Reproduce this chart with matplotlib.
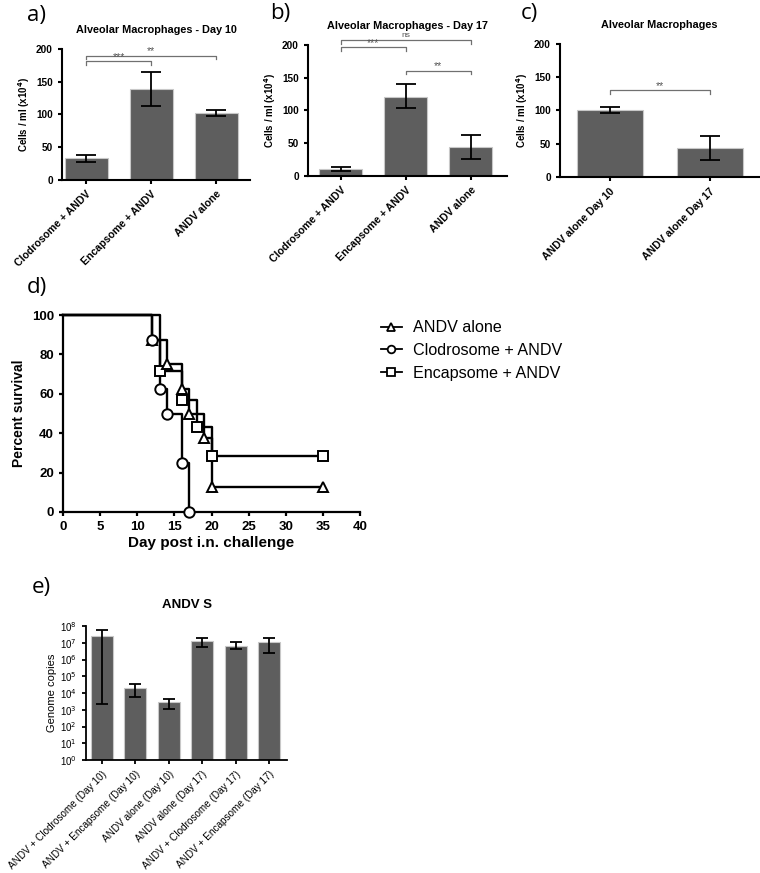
import matplotlib
matplotlib.use("Agg")
import matplotlib.pyplot as plt
import numpy as np
from matplotlib.lines import Line2D

W, H = 760, 873
plt.rcParams['font.family'] = ['Liberation Sans', 'DejaVu Sans']

# ---------------- data ----------------
cats_a = ["Clodrosome + ANDV", "Encapsome + ANDV", "ANDV alone"]
vals_a = [33, 139, 102]
lo_a = [28, 113, 97]
hi_a = [38, 165, 107]

cats_b = ["Clodrosome + ANDV", "Encapsome + ANDV", "ANDV alone"]
vals_b = [10, 121, 44]
lo_b = [8, 104, 26]
hi_b = [13, 140, 62]

cats_c = ["ANDV alone Day 10", "ANDV alone Day 17"]
vals_c = [101, 44]
lo_c = [96, 26]
hi_c = [106, 61]

surv_andv_t = [0, 12, 14, 16, 17, 19, 20, 35]
surv_andv_p = [100, 87.5, 75, 62.5, 50, 37.5, 12.5, 12.5]
surv_clod_t = [0, 12, 13, 14, 16, 17]
surv_clod_p = [100, 87.5, 62.5, 50, 25, 0]
surv_enc_t = [0, 13, 16, 18, 20, 35]
surv_enc_p = [100, 71.4, 57.1, 42.9, 28.6, 28.6]

cats_e = ["ANDV + Clodrosome (Day 10)", "ANDV + Encapsome (Day 10)", "ANDV alone (Day 10)",
          "ANDV alone (Day 17)", "ANDV + Clodrosome (Day 17)", "ANDV + Encapsome (Day 17)"]
vals_e = [2.6e7, 2.0e4, 2.8e3, 1.26e7, 6.7e6, 1.15e7]
lo_e = [2.2e3, 6.0e3, 1.15e3, 5.9e6, 4.1e6, 2.3e6]
hi_e = [5.5e7, 3.6e4, 4.6e3, 2.0e7, 1.05e7, 2.0e7]

BAR = '#5e5e5e'
EDGE = '#c8c8c8'

fig = plt.figure(figsize=(W / 100, H / 100), dpi=100)


def ax_px(l, t, r, b):
    return fig.add_axes([l / W, 1 - b / H, (r - l) / W, (b - t) / H])


def style(ax, lw=1.5):
    for s in ['top', 'right']:
        ax.spines[s].set_visible(False)
    for s in ['left', 'bottom']:
        ax.spines[s].set_linewidth(lw)
    ax.tick_params(width=lw, length=3, direction='out')


def bracket(ax, x1, x2, y, text, drop=6):
    ax.plot([x1, x1, x2, x2], [y - drop, y, y, y - drop], color='#707070', lw=0.9, clip_on=False)
    ax.text((x1 + x2) / 2, y - 1.5, text, ha='center', va='bottom', fontsize=7.5, color='#555555', clip_on=False)


def bar_panel(ax, cats, vals, lo, hi, xlim, title, title_y):
    x = np.arange(len(cats))
    v = np.array(vals)
    yerr = [v - np.array(lo), np.array(hi) - v]
    ax.bar(x, v, width=0.66, color=BAR, edgecolor=EDGE, linewidth=0.8, zorder=2)
    ax.errorbar(x, v, yerr=yerr, fmt='none', ecolor='black', elinewidth=1.3, capsize=7.5, capthick=1.3, zorder=3)
    ax.set_xlim(*xlim)
    ax.set_ylim(0, 200)
    ax.set_yticks([0, 50, 100, 150, 200])
    ax.set_xticks(x)
    ax.set_xticklabels(cats, rotation=45, ha='right', rotation_mode='anchor', fontsize=7.6, fontweight='bold')
    for lbl in ax.get_yticklabels():
        lbl.set_fontsize(7.2)
        lbl.set_fontweight('bold')
    ax.set_ylabel('Cells / ml (x10$^{\\mathbf{4}}$)', fontsize=7, fontweight='bold', labelpad=3)
    style(ax)
    bb = ax.get_position()
    fig.text((bb.x0 + bb.x1) / 2, 1 - title_y / H, title, ha='center', va='center', fontsize=7.8, fontweight='bold')


# ---- a ----
axa = ax_px(62, 49, 250, 180)
bar_panel(axa, cats_a, vals_a, lo_a, hi_a, (-0.37, 2.52), 'Alveolar Macrophages - Day 10', 30)
bracket(axa, 0, 1, 181, '***')
bracket(axa, 0, 2, 190, '**')

# ---- b ----
axb = ax_px(308, 45, 507, 176)
bar_panel(axb, cats_b, vals_b, lo_b, hi_b, (-0.5, 2.56), 'Alveolar Macrophages - Day 17', 26)
bracket(axb, 0, 1, 197, '***')
axb.plot([0, 0, 2, 2], [202, 208, 208, 202], color='#707070', lw=0.9, clip_on=False)
axb.text(1, 208.5, 'ns', ha='center', va='bottom', fontsize=6, color='#555555', clip_on=False)
bracket(axb, 1, 2, 161, '**')

# ---- c ----
axc = ax_px(560, 44, 759, 177)
bar_panel(axc, cats_c, vals_c, lo_c, hi_c, (-0.5, 1.49), 'Alveolar Macrophages', 25)
bracket(axc, 0, 1, 131, '**')

# ---- d ----
axd = ax_px(63, 315, 360, 512)
mk = dict(markerfacecolor='white', markeredgecolor='black', markeredgewidth=1.4, markersize=7.5)
series = [
    (surv_enc_t, surv_enc_p, 's', 'Encapsome + ANDV'),
    (surv_andv_t, surv_andv_p, '^', 'ANDV alone'),
    (surv_clod_t, surv_clod_p, 'o', 'Clodrosome + ANDV'),
]
for t, p, m, name in series:
    axd.step(t, p, where='post', color='black', lw=1.7, clip_on=False, zorder=3)
    axd.plot(t[1:], p[1:], linestyle='none', marker=m, zorder=4, clip_on=False, **mk)
axd.set_xlim(0, 40)
axd.set_ylim(0, 100)
axd.set_xticks(range(0, 41, 5))
axd.set_yticks(range(0, 101, 20))
style(axd, lw=1.6)
for lbl in axd.get_xticklabels() + axd.get_yticklabels():
    lbl.set_fontsize(9.5)
    lbl.set_fontweight('bold')
axd.set_xlabel('Day post i.n. challenge', fontsize=11, fontweight='bold', labelpad=2)
axd.set_ylabel('Percent survival', fontsize=10, fontweight='bold', labelpad=4)

mk_leg = dict(markerfacecolor='white', markeredgecolor='black', markeredgewidth=1.3, markersize=5.5)
handles = [Line2D([0], [0], color='black', lw=1.3, marker=m, **mk_leg) for m in ['^', 'o', 's']]
fig.legend(handles, ['ANDV alone', 'Clodrosome + ANDV', 'Encapsome + ANDV'],
           loc='upper left', bbox_to_anchor=(366 / W, 1 - 306 / H), frameon=False,
           fontsize=11.6, handlelength=1.35, handletextpad=0.65, labelspacing=0.47)

# ---- e ----
axe = ax_px(86, 626, 287, 760)
xe = np.arange(len(cats_e))
ve = np.array(vals_e)
axe.bar(xe, ve - 1, bottom=1, width=0.66, color=BAR, edgecolor=EDGE, linewidth=0.8, zorder=2)
axe.errorbar(xe, ve, yerr=[ve - np.array(lo_e), np.array(hi_e) - ve], fmt='none', ecolor='black',
             elinewidth=1.3, capsize=4, capthick=1.3, zorder=3)
axe.set_yscale('log')
axe.set_ylim(1, 1e8)
axe.set_xlim(-0.47, 5.53)
axe.set_yticks([10.0 ** k for k in range(0, 9)])
axe.set_yticklabels(['10$^{%d}$' % k for k in range(0, 9)], fontsize=7)
axe.set_xticks(xe)
axe.set_xticklabels(cats_e, rotation=45, ha='right', rotation_mode='anchor', fontsize=7.2)
style(axe, lw=1.3)
axe.tick_params(which='minor', length=1.5, width=0.6)
axe.set_ylabel('Genome copies', fontsize=8, labelpad=2)
bb = axe.get_position()
fig.text((bb.x0 + bb.x1) / 2, 1 - 605 / H, 'ANDV S', ha='center', va='center', fontsize=9.5, fontweight='bold')

# ---- panel labels ----
for lbl, x, y in [('a)', 27, 15), ('b)', 270, 13), ('c)', 521, 13), ('d)', 27, 288), ('e)', 32, 587)]:
    fig.text(x / W, 1 - y / H, lbl, fontsize=16, family='Open Sans', va='center', ha='left')

fig.savefig('out.png', dpi=100)
